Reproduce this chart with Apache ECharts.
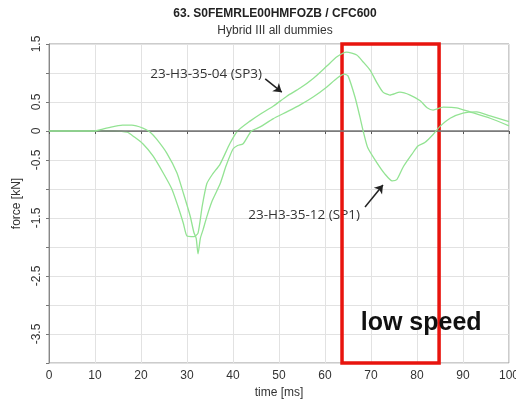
<!DOCTYPE html>
<html lang="en">
<head>
  <meta charset="UTF-8">
  <script src="https://cdn.jsdelivr.net/npm/echarts@6/dist/echarts.min.js"></script>
  <title>Hybrid III femur force</title>
  <style>
    html, body { margin: 0; padding: 0; background: #fff; }
    #chart { width: 516px; height: 402px; }
  </style>
</head>
<body>
  <div id="chart"></div>
  <script>
    // curve 23-H3-35-04 (SP3)
    const timeSP3 = [0, 5, 10, 14, 17, 18.5, 20.4, 22.6, 24.8, 26.7, 28, 29.2, 30, 31.5, 32.4, 33.3, 34.3, 35.5, 37.2, 39.3, 41,
      43.7, 45.9, 48.8, 51.7, 54.6, 57.5, 60.4, 62.6, 64.7, 66.9, 68.3, 69.8, 71.3, 72.6, 74.1, 76.3, 78.5, 80.7, 82.2, 83.5,
      85.7, 88.6, 91.5, 95.9, 100];
    const forceSP3 = [0, 0, 0, 0, -0.02, -0.1, -0.22, -0.43, -0.72, -1.0, -1.29, -1.59, -1.81, -1.82, -1.76, -1.3, -0.91, -0.75, -0.57, -0.22, 0,
      0.17, 0.29, 0.43, 0.6, 0.74, 0.91, 1.12, 1.28, 1.36, 1.31, 1.19, 1.05, 0.83, 0.67, 0.62, 0.67, 0.62, 0.52, 0.4, 0.36,
      0.41, 0.4, 0.33, 0.22, 0.09];

    // curve 23-H3-35-12 (SP1)
    const timeSP1 = [0, 5, 10, 11, 13, 16, 18, 20.4, 22, 23.4, 25.6, 27.8, 29.2, 30.7, 31.5, 32, 32.4, 32.9, 33.5, 34.3, 35.5,
      37.2, 38.5, 40, 41, 42.2, 44, 45.9, 48.7, 51.7, 54.6, 57.5, 60.4, 62.6, 64.2, 65, 66.5, 67.6, 68.3, 69.3, 71.3, 73,
      74.6, 75.6, 77, 78.9, 80.2, 81.7, 83.5, 85, 87.2, 90, 93, 95.9, 100];
    const forceSP1 = [0, 0, 0, 0.02, 0.06, 0.1, 0.1, 0.05, -0.02, -0.14, -0.38, -0.72, -1.07, -1.47, -1.75, -1.85, -2.12, -1.85, -1.7, -1.48, -1.2,
      -0.91, -0.6, -0.31, -0.25, -0.22, 0, 0.07, 0.21, 0.33, 0.45, 0.59, 0.76, 0.91, 0.98, 0.95, 0.59, 0.24, 0, -0.29, -0.55, -0.74,
      -0.86, -0.84, -0.62, -0.4, -0.26, -0.2, -0.06, 0.08, 0.22, 0.31, 0.33, 0.26, 0.16];

    // only these y values carry a label
    const yTickLabels = [1.5, 0.5, 0, -0.5, -1.5, -2.5, -3.5];
    const lowSpeedWindow = [63.7, 84.8];

    const green = '#93e393';
    const chart = echarts.init(document.getElementById('chart'));

    const option = {
      animation: false,
      grid: {
        left: 49, right: 7, top: 44, bottom: 39, outerBoundsMode: 'none',
        show: true, borderColor: '#999', borderWidth: 1
      },
      xAxis: {
        type: 'value', min: 0, max: 100, interval: 10,
        name: 'time [ms]', nameLocation: 'middle', nameGap: 24,
        nameTextStyle: { fontFamily: 'Liberation Sans', fontSize: 12, color: '#333' },
        axisLine: { lineStyle: { color: '#888' } },
        axisTick: { show: true, length: 3, lineStyle: { color: '#555' } },
        axisLabel: { fontFamily: 'Liberation Sans', fontSize: 12, color: '#333', margin: 7 },
        splitLine: { lineStyle: { color: '#e2e2e2' } }
      },
      yAxis: {
        type: 'value', min: -4, max: 1.5, interval: 0.5,
        name: 'force [kN]', nameLocation: 'middle', nameGap: 24,
        nameTextStyle: { fontFamily: 'Liberation Sans', fontSize: 12, color: '#333' },
        axisLine: { show: true, lineStyle: { color: '#888' } },
        axisTick: { show: true, length: 3, lineStyle: { color: '#777' } },
        axisLabel: {
          rotate: 90, fontFamily: 'Liberation Sans', fontSize: 12, color: '#333', margin: 6,
          formatter: v => yTickLabels.some(t => Math.abs(t - v) < 1e-6) ? String(v) : ''
        },
        splitLine: { lineStyle: { color: '#e2e2e2' } }
      },
      series: [
        {
          name: '23-H3-35-04 (SP3)', type: 'line', showSymbol: false, smooth: 0.2,
          lineStyle: { color: green, width: 1.3 },
          data: timeSP3.map((t, i) => [t, forceSP3[i]]),
          markLine: {
            silent: true, symbol: ['none', 'none'], label: { show: false },
            lineStyle: { color: '#777', width: 1.6, type: 'solid' },
            data: [{ yAxis: 0 }]
          },
          z: 3
        },
        {
          // drawn on a higher layer so the red window passes over the SP1 label
          name: '23-H3-35-12 (SP1)', type: 'line', showSymbol: false, smooth: 0.2, clip: false, zlevel: 1,
          lineStyle: { color: green, width: 1.3 },
          data: timeSP1.map((t, i) => [t, forceSP1[i]]),
          markArea: {
            silent: true,
            itemStyle: { color: 'rgba(0,0,0,0)', borderColor: '#e8140e', borderWidth: 3.5 },
            data: [[{ coord: [lowSpeedWindow[0], 1.5] }, { coord: [lowSpeedWindow[1], -4] }]]
          },
          markLine: {
            silent: true, symbol: ['none', 'arrow'], symbolSize: 8, label: { show: false },
            lineStyle: { color: '#222', width: 1.5, type: 'solid' },
            data: [
              [{ coord: [47, 0.9] }, { coord: [50.6, 0.67] }],
              [{ coord: [68.7, -1.31] }, { coord: [72.6, -0.93] }]
            ]
          },
          z: 3
        }
      ]
    };

    chart.setOption(option);

    // titles and text annotations (annotations placed in data space)
    const at = (x, y) => chart.convertToPixel({ gridIndex: 0 }, [x, y]);
    const pSP3 = at(46.3, 0.98);
    const pSP1 = at(67.6, -1.45);
    const pLow = at(80.9, -3.31);
    chart.setOption({
      graphic: [
        { id: 't1', type: 'text', x: 275, y: 14, style: { text: '63. S0FEMRLE00HMFOZB / CFC600', font: 'bold 12px "Liberation Sans"', fill: '#222', align: 'center', verticalAlign: 'middle' } },
        { id: 't2', type: 'text', x: 275, y: 31, style: { text: 'Hybrid III all dummies', font: '12px "Liberation Sans"', fill: '#333', align: 'center', verticalAlign: 'middle' } },
        { id: 'a1', type: 'text', x: pSP3[0], y: pSP3[1], style: { text: '23-H3-35-04 (SP3)', font: '13.5px "Open Sans"', fill: '#333', align: 'right', verticalAlign: 'middle' } },
        { id: 'a2', type: 'text', x: pSP1[0], y: pSP1[1], style: { text: '23-H3-35-12 (SP1)', font: '13.5px "Open Sans"', fill: '#333', align: 'right', verticalAlign: 'middle' } },
        { id: 'a3', type: 'text', zlevel: 2, x: pLow[0], y: pLow[1], style: { text: 'low speed', font: 'bold 25px "Liberation Sans"', fill: '#111', align: 'center', verticalAlign: 'middle' } }
      ]
    });
  </script>
</body>
</html>
